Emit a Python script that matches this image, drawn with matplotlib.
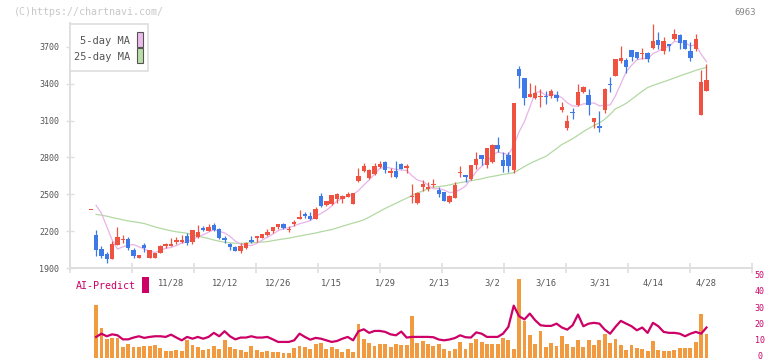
import numpy as np
import matplotlib
matplotlib.use("Agg")
import matplotlib.pyplot as plt
import matplotlib.transforms as mtrans
from matplotlib.patches import Rectangle

W, H = 772, 361

# daily candles, index 0 .. 115
opens = [2370, 2169, 2055, 2014, 1976, 2088, 2125, 2136, 2050, 1982,
         2088, 1979, 1985, 2025, 2080, 2082, 2115, 2115, 2164, 2115,
         2155, 2229, 2204, 2248, 2218, 2145, 2096, 2072, 2039, 2063,
         2131, 2145, 2142, 2166, 2199, 2234, 2259, 2212, 2261, 2299,
         2340, 2324, 2302, 2486, 2410, 2424, 2462, 2462, 2475, 2424,
         2608, 2692, 2633, 2665, 2725, 2760, 2676, 2689, 2746, 2717,
         2481, 2427, 2562, 2546, 2573, 2535, 2516, 2440, 2473, 2670,
         2652, 2624, 2738, 2820, 2738, 2760, 2901, 2779, 2820, 2698,
         3519, 3448, 3294, 3286, 3288, 3302, 3297, 3310, 3188, 3039,
         3169, 3226, 3334, 3307, 3090, 3055, 3185, 3397, 3462, 3586,
         3592, 3673, 3657, 3643, 3649, 3689, 3754, 3665, 3722, 3763,
         3798, 3754, 3665, 3681, 3145, 3340]
highs = [2370, 2212, 2079, 2033, 2120, 2234, 2168, 2153, 2060, 2010,
         2107, 2048, 2025, 2088, 2107, 2147, 2150, 2169, 2185, 2210,
         2250, 2245, 2259, 2267, 2226, 2164, 2104, 2080, 2101, 2112,
         2164, 2158, 2175, 2218, 2234, 2259, 2267, 2242, 2291, 2372,
         2356, 2356, 2394, 2510, 2448, 2494, 2513, 2491, 2521, 2510,
         2714, 2752, 2703, 2752, 2773, 2771, 2714, 2771, 2752, 2749,
         2584, 2521, 2616, 2600, 2624, 2556, 2521, 2494, 2600, 2730,
         2652, 2738, 2841, 2820, 2874, 2909, 2966, 2841, 2847, 3242,
         3546, 3448, 3405, 3391, 3359, 3337, 3356, 3343, 3250, 3145,
         3199, 3397, 3383, 3356, 3120, 3177, 3364, 3454, 3600, 3706,
         3608, 3673, 3657, 3689, 3657, 3885, 3819, 3779, 3722, 3844,
         3803, 3754, 3738, 3803, 3511, 3559]
lows = [2370, 1998, 1985, 1944, 1976, 2088, 2105, 2047, 1985, 1980,
        2033, 1978, 1985, 2020, 2066, 2080, 2096, 2107, 2088, 2096,
        2142, 2201, 2204, 2204, 2137, 2107, 2047, 2042, 2023, 2055,
        2104, 2115, 2142, 2161, 2188, 2218, 2218, 2196, 2245, 2299,
        2307, 2291, 2302, 2394, 2408, 2410, 2426, 2426, 2475, 2424,
        2600, 2684, 2627, 2660, 2711, 2673, 2643, 2635, 2706, 2670,
        2427, 2421, 2529, 2529, 2556, 2475, 2445, 2427, 2473, 2638,
        2603, 2616, 2703, 2738, 2717, 2752, 2841, 2684, 2684, 2676,
        3367, 3226, 3294, 3278, 3207, 3234, 3286, 3256, 3172, 3023,
        3112, 3218, 3326, 3145, 3042, 3009, 3164, 3334, 3462, 3570,
        3489, 3584, 3600, 3600, 3576, 3681, 3681, 3641, 3665, 3754,
        3684, 3681, 3584, 3665, 3145, 3340]
closes = [2370, 2047, 1998, 1976, 2096, 2153, 2140, 2066, 1998, 2006,
          2066, 2044, 2020, 2080, 2093, 2096, 2126, 2131, 2107, 2210,
          2193, 2212, 2237, 2210, 2145, 2128, 2072, 2042, 2082, 2104,
          2115, 2158, 2175, 2196, 2234, 2259, 2229, 2221, 2278, 2313,
          2321, 2299, 2378, 2408, 2446, 2494, 2502, 2486, 2502, 2510,
          2649, 2730, 2695, 2730, 2749, 2700, 2689, 2643, 2706, 2733,
          2486, 2513, 2584, 2559, 2578, 2500, 2448, 2486, 2576, 2681,
          2644, 2738, 2787, 2787, 2874, 2901, 2868, 2733, 2733, 3240,
          3462, 3286, 3316, 3324, 3299, 3291, 3337, 3286, 3210, 3096,
          3161, 3332, 3375, 3226, 3120, 3042, 3356, 3386, 3600, 3608,
          3535, 3616, 3608, 3651, 3600, 3746, 3714, 3746, 3706, 3803,
          3730, 3681, 3608, 3763, 3413, 3429]

ma5 = [None, 2410, 2345, 2237, 2128, 2054, 2073, 2086, 2091, 2073,
       2055, 2036, 2027, 2043, 2061, 2067, 2083, 2105, 2111, 2134,
       2153, 2171, 2192, 2212, 2199, 2186, 2158, 2119, 2094, 2086,
       2083, 2100, 2127, 2150, 2176, 2204, 2219, 2228, 2244, 2260,
       2272, 2286, 2318, 2344, 2370, 2405, 2446, 2467, 2486, 2499,
       2530, 2575, 2617, 2663, 2711, 2721, 2713, 2702, 2697, 2694,
       2651, 2616, 2604, 2575, 2544, 2547, 2534, 2514, 2518, 2538,
       2567, 2625, 2685, 2727, 2766, 2817, 2843, 2833, 2822, 2895,
       3007, 3091, 3207, 3326, 3337, 3303, 3313, 3307, 3285, 3244,
       3218, 3217, 3235, 3238, 3243, 3219, 3224, 3226, 3301, 3398,
       3497, 3549, 3593, 3604, 3602, 3644, 3664, 3691, 3702, 3743,
       3740, 3733, 3706, 3717, 3639, 3579]
ma25 = [None, 2337, 2330, 2322, 2311, 2302, 2292, 2283, 2277, 2270,
        2262, 2248, 2235, 2223, 2213, 2203, 2195, 2189, 2183, 2172,
        2160, 2150, 2140, 2128, 2119, 2110, 2105, 2102, 2101, 2103,
        2106, 2108, 2112, 2115, 2123, 2130, 2137, 2143, 2152, 2161,
        2169, 2177, 2185, 2195, 2204, 2213, 2226, 2240, 2253, 2266,
        2278, 2292, 2314, 2338, 2362, 2385, 2406, 2427, 2448, 2468,
        2490, 2510, 2527, 2545, 2557, 2563, 2568, 2576, 2586, 2595,
        2602, 2610, 2618, 2626, 2637, 2645, 2653, 2662, 2668, 2676,
        2700, 2726, 2750, 2770, 2790, 2808, 2840, 2872, 2905, 2928,
        2952, 2980, 3010, 3035, 3060, 3080, 3110, 3150, 3195, 3215,
        3240, 3272, 3305, 3338, 3368, 3385, 3400, 3415, 3430, 3446,
        3462, 3478, 3492, 3508, 3520, 3533]

# AI-Predict panel, index 1 .. 115
predict_bars = [33.0, 18.5, 11.9, 12.6, 12.6, 7.0, 8.6, 6.8, 6.8, 7.4,
                7.4, 8.0, 6.6, 4.3, 4.3, 4.9, 4.3, 11.1, 8.0, 7.0,
                5.3, 5.7, 7.4, 5.7, 11.1, 6.8, 5.7, 4.9, 3.9, 7.8,
                4.9, 3.7, 4.3, 3.7, 3.7, 3.3, 3.3, 6.2, 7.8, 7.0,
                5.5, 9.0, 9.3, 5.7, 6.8, 5.7, 3.9, 5.7, 4.1, 21.0,
                11.7, 9.5, 7.4, 8.6, 8.6, 7.0, 8.6, 8.0, 8.0, 26.0,
                9.5, 10.7, 8.6, 7.4, 8.6, 6.0, 4.5, 6.0, 10.1, 5.5,
                9.3, 11.7, 10.1, 8.6, 8.6, 8.6, 12.8, 11.1, 5.5, 48.9,
                22.9, 14.2, 8.6, 16.7, 6.8, 9.3, 7.4, 13.6, 8.6, 6.8,
                11.1, 6.8, 11.1, 8.0, 11.1, 14.8, 9.5, 11.7, 8.0, 4.9,
                8.0, 6.2, 5.5, 4.3, 10.5, 4.9, 4.3, 4.3, 4.9, 6.2,
                6.2, 6.2, 10.1, 27.2, 14.8]
predict_line = [13.2, 15.2, 13.6, 14.8, 14.2, 11.7, 11.7, 12.8, 13.6, 12.6,
                13.2, 13.6, 13.6, 13.2, 14.6, 12.8, 11.1, 13.2, 12.1, 13.2,
                12.1, 13.2, 15.7, 13.6, 16.7, 13.6, 11.7, 12.8, 12.8, 13.6,
                12.8, 12.8, 13.2, 11.7, 10.1, 10.1, 10.1, 11.1, 15.2, 13.2,
                11.5, 12.6, 12.1, 11.1, 10.1, 10.7, 12.1, 13.2, 11.1, 16.7,
                17.9, 15.7, 16.9, 16.9, 16.3, 14.8, 14.2, 16.5, 12.8, 13.2,
                13.2, 13.2, 13.2, 13.0, 11.6, 11.1, 11.6, 12.5, 14.2, 13.0,
                12.8, 16.0, 15.2, 13.2, 13.2, 13.2, 15.2, 19.4, 32.5, 26.0,
                24.0, 27.6, 23.5, 20.4, 20.0, 20.0, 21.4, 19.0, 17.7, 20.4,
                27.0, 19.8, 21.4, 21.9, 21.4, 17.7, 15.2, 19.4, 23.1, 21.4,
                19.8, 17.3, 19.0, 15.7, 21.9, 19.8, 16.3, 15.7, 15.7, 15.2,
                13.6, 15.2, 16.3, 15.2, 19.0]

date_labels = ["11/28", "12/12", "12/26", "1/15", "1/29", "2/13",
               "3/2", "3/16", "3/31", "4/14", "4/28"]
date_pos = [15, 25, 35, 45, 55, 65, 75, 85, 95, 105, 115]
price_ticks = [1900, 2200, 2500, 2800, 3100, 3400, 3700]
predict_ticks = [0, 10, 20, 30, 40, 50]

UP = "#f05242"
DOWN = "#3d7ae8"
MONO = "DejaVu Sans Mono"
XLIM = (-3.87, 123.5)


def fx(px):
    return px / W


def fy(py):
    return 1 - py / H


fig = plt.figure(figsize=(W / 100, H / 100), dpi=100)

# price chart
ax = fig.add_axes([fx(70), fy(268.3), fx(752) - fx(70), fy(23) - fy(268.3)])
ax.set_xlim(*XLIM)
ax.set_ylim(1898, 3893)

x = np.arange(len(opens))
o = np.array(opens, dtype=float)
c = np.array(closes, dtype=float)
colors = [UP if cc >= oo else DOWN for oo, cc in zip(o, c)]

ax.plot(x, np.array(ma25, dtype=float), color="#b3d9a3", lw=0.9, zorder=1)
ax.plot(x, np.array(ma5, dtype=float), color="#e9b3e9", lw=0.9, zorder=1)
ax.vlines(x, lows, highs, colors=colors, lw=0.9, zorder=2)
body = np.maximum(np.abs(c - o), 9)
ax.bar(x, body, bottom=np.minimum(o, c), width=0.82, color=colors,
       linewidth=0, zorder=3)

for s in ["top", "right"]:
    ax.spines[s].set_visible(False)
for s in ["left", "bottom"]:
    ax.spines[s].set_color("#dedede")
    ax.spines[s].set_linewidth(1.4)

ax.set_yticks(price_ticks)
ax.set_yticklabels([str(v) for v in price_ticks], fontsize=6,
                   family=MONO, color="#555555")
ax.tick_params(axis="y", direction="inout", length=5.8, width=1,
               color="#dedede", pad=5)
ax.set_xticks(np.linspace(XLIM[0], XLIM[1], 12))
ax.set_xticklabels([])
ax.tick_params(axis="x", direction="inout", length=6.5, width=1.2,
               color="#dedede")

tr = mtrans.blended_transform_factory(ax.transData, fig.transFigure)
for lab, p in zip(date_labels, date_pos):
    ax.text(p, fy(283.5), lab, transform=tr, ha="center", va="center",
            fontsize=6.3, family=MONO, color="#555555")

# AI-Predict panel
ax2 = fig.add_axes([fx(70), fy(358.3), fx(752) - fx(70), fy(277.3) - fy(358.3)])
ax2.set_xlim(*XLIM)
ax2.set_ylim(0, 50)
ax2.axis("off")
xp = np.arange(1, len(predict_bars) + 1)
ax2.bar(xp, predict_bars, width=0.72, color="#f29a40", linewidth=0, zorder=1)
ax2.plot(xp, predict_line, color="#cc0066", lw=1.6, zorder=2,
         solid_joinstyle="round")
tr2 = mtrans.blended_transform_factory(fig.transFigure, ax2.transData)
tr2 = mtrans.offset_copy(tr2, fig=fig, y=1.5, units="dots")
for v in predict_ticks:
    ax2.text(fx(759.5), v, str(v), transform=tr2, ha="center", va="center",
             fontsize=6, family=MONO, color="#cc0066", clip_on=False)

# legend box
fig.add_artist(Rectangle((fx(70), fy(71)), fx(78), 47 / H,
                         transform=fig.transFigure, facecolor="white",
                         edgecolor="#dedede", lw=1.2, zorder=5))
fig.text(fx(130), fy(40.7), "5-day MA", ha="right", va="center",
         fontsize=7.5, family=MONO, color="#555555", zorder=6)
fig.text(fx(130), fy(57.3), "25-day MA", ha="right", va="center",
         fontsize=7.5, family=MONO, color="#555555", zorder=6)
fig.add_artist(Rectangle((fx(137), fy(46.7)), fx(6), 15 / H,
                         transform=fig.transFigure, facecolor="#eebbee",
                         edgecolor="#555555", lw=0.8, zorder=6))
fig.add_artist(Rectangle((fx(137), fy(63.3)), fx(6), 15 / H,
                         transform=fig.transFigure, facecolor="#bbdda8",
                         edgecolor="#555555", lw=0.8, zorder=6))

fig.text(fx(76), fy(285.7), "AI-Predict", ha="left", va="center",
         fontsize=7.2, family=MONO, color="#cc0066")
fig.add_artist(Rectangle((fx(142), fy(293)), fx(6.7), 16 / H,
                         transform=fig.transFigure, facecolor="#cc0066",
                         edgecolor="none", zorder=6))

fig.text(fx(14), fy(12.3), "(C)https://chartnavi.com/", ha="left",
         va="center", fontsize=7.2, family=MONO, color="#c8c8c8")
fig.text(fx(756), fy(12.3), "6963", ha="right", va="center",
         fontsize=6.5, family=MONO, color="#888888")

fig.savefig("out.png", dpi=100)
